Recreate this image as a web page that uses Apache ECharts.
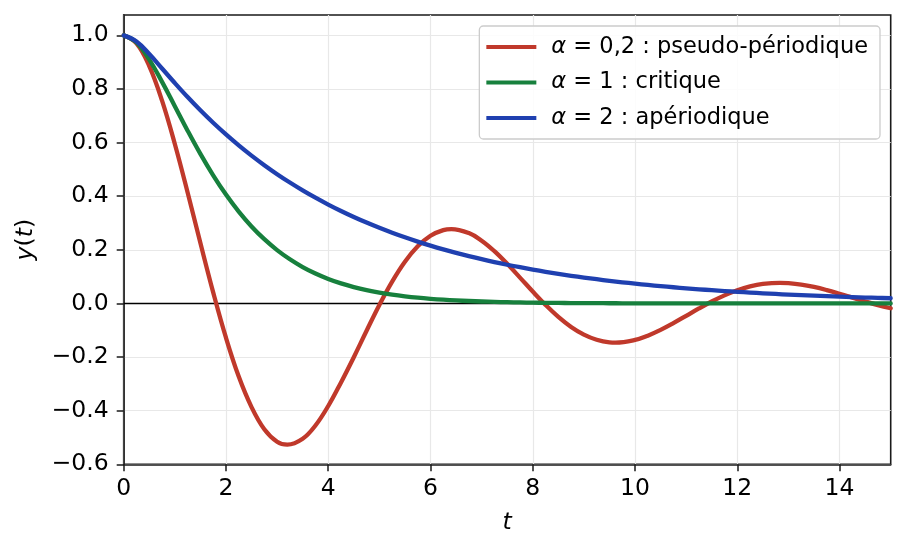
<!DOCTYPE html>
<html>
<head>
<meta charset="utf-8">
<script src="https://cdn.jsdelivr.net/npm/echarts@6/dist/echarts.min.js"></script>
<style>
  html, body { margin: 0; padding: 0; background: #fff; }
  #chart { width: 906px; height: 553px; }
</style>
</head>
<body>
<div id="chart"></div>
<script>
// temps (s), pas 0.25
const T = [0, 0.25, 0.5, 0.75, 1, 1.25, 1.5, 1.75, 2, 2.25, 2.5, 2.75, 3, 3.25, 3.5, 3.75,
  4, 4.25, 4.5, 4.75, 5, 5.25, 5.5, 5.75, 6, 6.25, 6.5, 6.75, 7, 7.25, 7.5, 7.75,
  8, 8.25, 8.5, 8.75, 9, 9.25, 9.5, 9.75, 10, 10.25, 10.5, 10.75, 11, 11.25, 11.5, 11.75,
  12, 12.25, 12.5, 12.75, 13, 13.25, 13.5, 13.75, 14, 14.25, 14.5, 14.75, 15];

// temps du cas pseudo-périodique : même grille, les extrema remplacent le point voisin
const T_PSEUDO = [0, 0.25, 0.5, 0.75, 1, 1.25, 1.5, 1.75, 2, 2.25, 2.5, 2.75, 3, 3.2, 3.5, 3.75,
  4, 4.25, 4.5, 4.75, 5, 5.25, 5.5, 5.75, 6, 6.25, 6.41, 6.75, 7, 7.25, 7.5, 7.75,
  8, 8.25, 8.5, 8.75, 9, 9.25, 9.5, 9.62, 10, 10.25, 10.5, 10.75, 11, 11.25, 11.5, 11.75,
  12, 12.25, 12.5, 12.83, 13, 13.25, 13.5, 13.75, 14, 14.25, 14.5, 14.75, 15];

// alpha = 0,2 (pseudo-périodique)
const Y_PSEUDO = [1, 0.9699, 0.8853, 0.7564, 0.5949, 0.4140, 0.2252, 0.0413,
  -0.1279, -0.2729, -0.3867, -0.4694, -0.5159, -0.5266, -0.5047, -0.4552,
  -0.3826, -0.2945, -0.2004, -0.1018, -0.0056, 0.0813, 0.1554, 0.2131,
  0.2527, 0.2736, 0.2773, 0.2624, 0.2343, 0.1950, 0.1477, 0.0965,
  0.0443, -0.0055, -0.0503, -0.0877, -0.1164, -0.1356, -0.1451, -0.1460,
  -0.1361, -0.1202, -0.0988, -0.0735, -0.0462, -0.0186, 0.0072, 0.0301,
  0.0491, 0.0636, 0.0727, 0.0769, 0.0758, 0.0705, 0.0615, 0.0497,
  0.0361, 0.0217, 0.0074, -0.0061, -0.0178];

// alpha = 1 (critique)
const Y_CRITIQUE = [1, 0.9735, 0.9098, 0.8266, 0.7358, 0.6446, 0.5578, 0.4779,
  0.4060, 0.3426, 0.2873, 0.2397, 0.1991, 0.1648, 0.1359, 0.1117,
  0.0916, 0.0749, 0.0611, 0.0497, 0.0404, 0.0328, 0.0266, 0.0215,
  0.0174, 0.0140, 0.0113, 0.0091, 0.0073, 0.0059, 0.0047, 0.0038,
  0.0030, 0.0024, 0.0019, 0.0015, 0.0012, 0.0010, 0.0008, 0.0006,
  0.0005, 0.0004, 0.0003, 0.0003, 0.0002, 0.0002, 0.0002, 0.0001,
  0.0001, 0.0001, 0.0001, 0.0001, 0.0001, 0, 0, 0,
  0, 0, 0, 0, 0];

// alpha = 2 (apériodique)
const Y_APERIODIQUE = [1, 0.9771, 0.9303, 0.8765, 0.8223, 0.7700, 0.7205, 0.6740,
  0.6304, 0.5896, 0.5514, 0.5157, 0.4822, 0.4510, 0.4218, 0.3945,
  0.3689, 0.3450, 0.3226, 0.3017, 0.2822, 0.2639, 0.2468, 0.2308,
  0.2159, 0.2019, 0.1888, 0.1766, 0.1651, 0.1544, 0.1444, 0.1351,
  0.1263, 0.1181, 0.1105, 0.1033, 0.0966, 0.0904, 0.0845, 0.0790,
  0.0739, 0.0691, 0.0647, 0.0605, 0.0565, 0.0529, 0.0495, 0.0462,
  0.0433, 0.0405, 0.0378, 0.0354, 0.0331, 0.0309, 0.0289, 0.0271,
  0.0253, 0.0237, 0.0221, 0.0207, 0.0194];

const X_TICKS = [0, 2, 4, 6, 8, 10, 12, 14];
const Y_TICKS = [-0.6, -0.4, -0.2, 0, 0.2, 0.4, 0.6, 0.8, 1.0];

const NAMES = ["α = 0,2 : pseudo-périodique", "α = 1 : critique", "α = 2 : apériodique"];
const COLORS = ["#c0392b", "#17803d", "#1f40b0"];

const FONT = "DejaVu Sans";
const FS = 23.5;     // ticks + titres d'axes
const FS_LEG = 22.5; // légende
const FRAME = "#1a1a1a";

function pairs(ts, ys) {
  return ts.map((t, i) => [t, ys[i]]);
}

function fmtTick(v) {
  return v.toFixed(1).replace("-", "\u2212");
}

const chart = echarts.init(document.getElementById("chart"), null, { renderer: "canvas" });

const curves = [
  [T_PSEUDO, Y_PSEUDO],
  [T, Y_CRITIQUE],
  [T, Y_APERIODIQUE]
];

const lineSeries = curves.map(([ts, ys], i) => ({
  name: NAMES[i],
  type: "line",
  data: pairs(ts, ys),
  showSymbol: false,
  symbol: "none",
  smooth: 0.4,
  lineStyle: { width: 4.3, color: COLORS[i], join: "round", cap: "round" },
  itemStyle: { color: COLORS[i] },
  z: 3 + i,
  animation: false
}));

// ligne y = 0
lineSeries[0].markLine = {
  silent: true,
  symbol: "none",
  label: { show: false },
  lineStyle: { color: "#000", width: 1.3, type: "solid" },
  data: [{ yAxis: 0 }],
  z: 1
};

const axisLineStyle = { show: true, onZero: false, lineStyle: { color: FRAME, width: 1.6 } };

chart.setOption({
  backgroundColor: "#fff",
  animation: false,
  grid: {
    left: 123.7, right: 15.3, top: 15, bottom: 88.7,
    show: true, borderColor: FRAME, borderWidth: 1.6,
    backgroundColor: "transparent"
  },
  legend: {
    orient: "vertical",
    right: 26,
    top: 26,
    itemWidth: 50,
    itemHeight: 4,
    itemGap: 11.5,
    padding: [9, 12, 9, 7],
    backgroundColor: "rgba(255,255,255,0.85)",
    borderColor: "#cccccc",
    borderWidth: 1.3,
    borderRadius: 4,
    icon: "rect",
    data: NAMES.map((n, i) => ({ name: n, itemStyle: { color: COLORS[i] } })),
    formatter: (name) => "{a|α}" + name.slice(1),
    textStyle: {
      fontFamily: FONT,
      fontSize: FS_LEG,
      color: "#000",
      lineHeight: 24,
      padding: [0, 0, 0, 10],
      rich: {
        a: { fontFamily: FONT, fontSize: FS_LEG, fontStyle: "italic", color: "#000" }
      }
    }
  },
  xAxis: {
    type: "value",
    min: 0,
    max: 15,
    interval: 2,
    name: "t",
    nameLocation: "middle",
    nameGap: 47,
    nameTextStyle: { fontFamily: FONT, fontSize: FS, fontStyle: "italic", color: "#000" },
    axisLine: axisLineStyle,
    axisTick: {
      show: true, length: 7, inside: false, customValues: X_TICKS,
      lineStyle: { color: FRAME, width: 1.5 }
    },
    axisLabel: {
      customValues: X_TICKS,
      margin: 13,
      fontFamily: FONT, fontSize: FS, color: "#000"
    },
    splitLine: { show: true, lineStyle: { color: "#e8e8e8", width: 1.2 } }
  },
  yAxis: {
    type: "value",
    min: -0.6,
    max: 1.076,
    interval: 0.2,
    name: "{i|y}({i|t})",
    nameLocation: "middle",
    nameGap: 86,
    nameRotate: 90,
    nameTextStyle: {
      fontFamily: FONT, fontSize: FS, color: "#000",
      rich: { i: { fontFamily: FONT, fontSize: FS, fontStyle: "italic", color: "#000" } }
    },
    axisLine: axisLineStyle,
    axisTick: {
      show: true, length: 7, inside: false, customValues: Y_TICKS,
      lineStyle: { color: FRAME, width: 1.5 }
    },
    axisLabel: {
      customValues: Y_TICKS,
      margin: 15,
      formatter: fmtTick,
      fontFamily: FONT, fontSize: FS, color: "#000"
    },
    splitLine: { show: true, lineStyle: { color: "#e8e8e8", width: 1.2 } }
  },
  series: lineSeries
});
</script>
</body>
</html>
